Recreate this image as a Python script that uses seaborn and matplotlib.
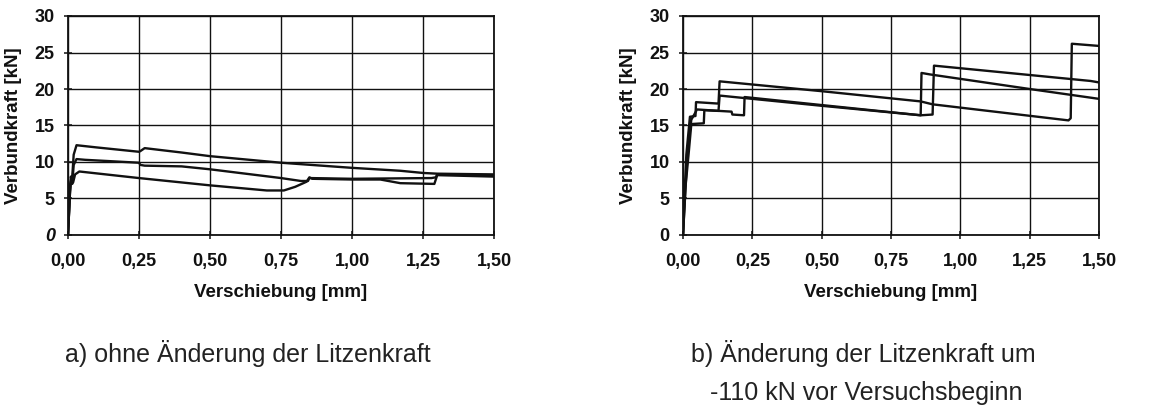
import matplotlib
matplotlib.use("Agg")
import matplotlib.pyplot as plt
import seaborn as sns
import numpy as np

# ---------------- data ----------------
# Left chart a) ohne Änderung der Litzenkraft
left_a_x = [0, 0.006, 0.010, 0.014, 0.020, 0.030, 0.10, 0.25, 0.255, 0.27, 0.40, 0.50, 0.75, 1.00, 1.17, 1.25, 1.30, 1.50]
left_a_y = [0, 5.0, 8.0, 7.4, 11.0, 12.3, 12.0, 11.4, 11.5, 11.9, 11.3, 10.8, 9.9, 9.2, 8.8, 8.5, 8.4, 8.3]

left_b_x = [0, 0.007, 0.011, 0.015, 0.020, 0.030, 0.06, 0.25, 0.255, 0.27, 0.40, 0.50, 0.75, 0.82, 0.845, 0.85, 1.00, 1.28, 1.295, 1.30, 1.50]
left_b_y = [0, 6.0, 7.6, 7.0, 9.6, 10.4, 10.3, 9.9, 9.6, 9.5, 9.4, 9.0, 7.8, 7.4, 7.4, 7.8, 7.7, 7.8, 7.9, 8.3, 8.2]

left_c_x = [0, 0.008, 0.012, 0.018, 0.025, 0.040, 0.25, 0.50, 0.70, 0.76, 0.80, 0.84, 0.85, 0.86, 1.00, 1.10, 1.17, 1.29, 1.30, 1.50]
left_c_y = [0, 7.0, 7.6, 7.2, 8.3, 8.7, 7.8, 6.8, 6.1, 6.1, 6.6, 7.3, 7.9, 7.7, 7.6, 7.6, 7.1, 7.0, 8.2, 8.0]

# Right chart b) Änderung der Litzenkraft um -110 kN
right_a_x = [0, 0.005, 0.012, 0.025, 0.045, 0.047, 0.128, 0.132, 0.50, 0.857, 0.90, 1.39, 1.398, 1.402, 1.50]
right_a_y = [0, 5.0, 11.0, 16.2, 16.3, 18.2, 18.0, 21.05, 19.7, 18.3, 17.9, 15.7, 16.0, 26.2, 25.9]

right_b_x = [0, 0.008, 0.018, 0.030, 0.045, 0.050, 0.13, 0.175, 0.178, 0.22, 0.222, 0.50, 0.857, 0.86, 0.89, 1.25, 1.50]
right_b_y = [0, 6.0, 12.0, 15.8, 16.8, 17.2, 17.0, 16.9, 16.5, 16.4, 18.9, 17.8, 16.4, 22.2, 22.0, 20.0, 18.65]

right_c_x = [0, 0.010, 0.020, 0.030, 0.075, 0.077, 0.128, 0.132, 0.50, 0.857, 0.90, 0.905, 1.47, 1.50]
right_c_y = [0, 7.0, 11.0, 15.2, 15.3, 17.1, 17.0, 19.1, 17.7, 16.4, 16.5, 23.2, 21.1, 20.9]

x_ticks = [0.0, 0.25, 0.5, 0.75, 1.0, 1.25, 1.5]
x_tick_labels = ["0,00", "0,25", "0,50", "0,75", "1,00", "1,25", "1,50"]
y_ticks = [0, 5, 10, 15, 20, 25, 30]
y_tick_labels = ["0", "5", "10", "15", "20", "25", "30"]

x_label = "Verschiebung [mm]"
y_label = "Verbundkraft [kN]"
caption_a = "a) ohne Änderung der Litzenkraft"
caption_b1 = "b) Änderung der Litzenkraft um"
caption_b2 = "-110 kN vor Versuchsbeginn"

# ---------------- style ----------------
sns.set_theme(style="white")
plt.rcParams["font.family"] = ["Liberation Sans", "DejaVu Sans"]

W, H = 1153, 407
fig = plt.figure(figsize=(W / 100, H / 100), dpi=100)
fig.patch.set_facecolor("white")

def px_rect(x0, x1, ytop, ybot):
    return [x0 / W, 1 - ybot / H, (x1 - x0) / W, (ybot - ytop) / H]

ax_l = fig.add_axes(px_rect(68, 494, 16, 235))
ax_r = fig.add_axes(px_rect(683, 1099, 16, 235))

def style_axes(ax):
    ax.set_xlim(0, 1.5)
    ax.set_ylim(0, 30)
    ax.set_xticks(x_ticks)
    ax.set_xticklabels(x_tick_labels)
    ax.set_yticks(y_ticks)
    ax.set_yticklabels(y_tick_labels)
    ax.grid(True, color="#111111", linewidth=1.0, linestyle="-")
    ax.set_axisbelow(True)
    for s in ax.spines.values():
        s.set_color("#111111")
        s.set_linewidth(1.3)
        s.set_visible(True)
    ax.tick_params(axis="both", direction="inout", length=6, width=1.1,
                   color="#111111", labelcolor="#111111", labelsize=13,
                   bottom=True, left=True)
    ax.tick_params(axis="x", pad=10)
    ax.tick_params(axis="y", pad=6.5)
    for t in ax.get_xticklabels() + ax.get_yticklabels():
        t.set_fontweight("bold")
    ax.set_xlabel(x_label, fontsize=13.5, fontweight="bold", color="#111111", labelpad=10)
    ax.set_ylabel(y_label, fontsize=13.5, fontweight="bold", color="#111111", labelpad=9)
    ax.set_facecolor("white")

for ax, curves in [
    (ax_l, [(left_a_x, left_a_y), (left_b_x, left_b_y), (left_c_x, left_c_y)]),
    (ax_r, [(right_a_x, right_a_y), (right_b_x, right_b_y), (right_c_x, right_c_y)]),
]:
    for cx, cy in curves:
        sns.lineplot(x=cx, y=cy, ax=ax, sort=False, estimator=None,
                     color="#111111", linewidth=1.7)
    style_axes(ax)

# the "0" on the left chart is printed in italics
ax_l.get_yticklabels()[0].set_fontstyle("italic")

fig.text(248 / W, 1 - 362 / H, caption_a, ha="center", va="baseline",
         fontsize=18, color="#222222")
fig.text(863 / W, 1 - 362 / H, caption_b1, ha="center", va="baseline",
         fontsize=18, color="#222222")
fig.text(866 / W, 1 - 400 / H, caption_b2, ha="center", va="baseline",
         fontsize=18, color="#222222")

fig.savefig("out.png", dpi=100, facecolor="white")
